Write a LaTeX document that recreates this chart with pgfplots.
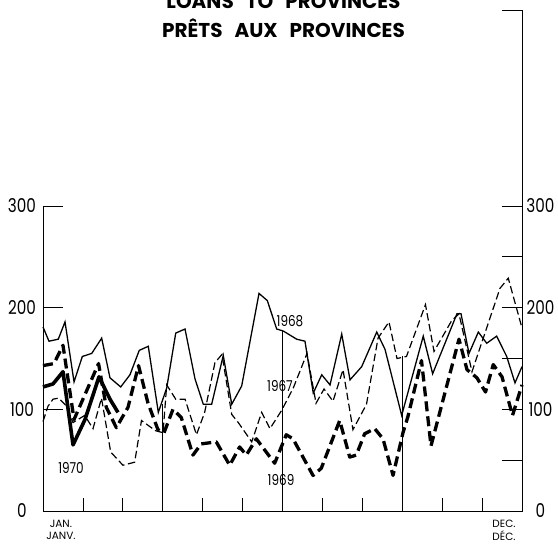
\documentclass[border=0pt]{standalone}
\usepackage{fontspec}
\setmainfont{Poppins}
\newfontfamily\narrowfont[FakeStretch=0.8]{Poppins}
\usepackage{pgfplots}
\pgfplotsset{compat=1.18}

\begin{document}
\begin{tikzpicture}
\begin{axis}[
  scale only axis,
  width=479pt, height=305pt,
  xmin=0, xmax=52, ymin=0, ymax=300,
  clip=false,
  axis line style={draw=none},
  major tick length=0pt,
  xtick=\empty,
  ytick={0,100,200,300},
  /pgf/number format/assume math mode=true,
  yticklabel style={anchor=center, xshift=-21pt, font=\narrowfont\fontsize{19}{19}\selectfont},
]
% 1968
\addplot[black, line width=1.3pt] coordinates {
  (0,181) (0.65,167) (1.66,169) (2.39,186) (3.37,127) (4.27,152) (5.29,155)
  (6.37,170) (7.27,131) (8.44,122) (9.44,134) (10.45,158) (11.43,162)
  (12.52,97) (13.43,121) (14.41,175) (15.42,179) (16.50,130) (17.40,105)
  (18.31,105) (19.57,153) (20.49,105) (21.57,123) (23.45,214) (24.35,207)
  (25.37,179) (26.09,177) (27.54,169) (28.44,167) (29.34,116) (30.26,134)
  (31.16,124) (32.43,174) (33.33,129) (34.60,142) (36.23,176) (37.13,159)
  (38.94,94) (41.28,172) (42.30,135) (44.94,194) (45.38,194) (46.25,155)
  (47.26,176) (48.17,165) (49.25,172) (50.34,152) (51.24,126) (52,142)
};
% 1967
\addplot[black, line width=1.2pt, dash pattern=on 7.5pt off 3.5pt] coordinates {
  (0,88) (0.54,103) (1.09,110) (1.70,111) (2.46,104) (3.26,87) (4.53,94)
  (5.43,81) (6.35,111) (7.35,58) (8.68,45) (9.95,48) (10.69,89) (12.21,79)
  (13.03,77) (13.43,124) (14.41,110) (15.42,110) (16.66,75) (17.55,97)
  (18.67,146) (19.43,154) (20.49,95) (21.20,87) (22.66,68) (23.74,97)
  (24.64,81) (25.91,99) (27.17,121) (28.66,155) (29.64,106) (30.51,120)
  (31.48,108) (32.57,139) (33.65,80) (35.12,105) (36.37,170) (37.56,186)
  (38.43,150) (39.46,152) (41.52,203) (42.45,157) (43.53,174) (44.35,187)
  (45.16,194) (46.57,137) (49.61,219) (50.51,229) (52,180)
};
% 1969
\addplot[black, line width=3.3pt, dash pattern=on 10pt off 5pt, line join=round] coordinates {
  (0,143) (1.19,145) (2.17,163) (3.37,90) (6.03,145) (6.87,102) (7.96,82)
  (9.23,102) (10.37,143) (11.40,106) (12.48,80) (13.14,77) (14.11,100)
  (15.01,92) (16.28,55) (17.18,66) (18.81,68) (20.27,45) (21.35,63)
  (22.07,55) (23.16,71) (25.15,47) (26.41,75) (27.14,71) (29.31,35)
  (30.21,42) (32.21,89) (33.30,53) (34.01,55) (34.92,76) (36.01,81)
  (36.91,71) (38.00,35) (39.08,77) (39.62,93) (41.09,148) (42.12,64)
  (45.16,169) (46.03,139) (47.11,131) (48.04,117) (48.88,144) (49.83,132)
  (50.97,94) (52,124)
};
% 1970
\addplot[black, line width=3.6pt, line join=round] coordinates {
  (0,122) (1.09,125) (2.17,137) (3.26,65) (4.56,90) (6.08,132) (7.27,110) (8.14,97)
};
% frame
\draw[line width=0.8pt] (axis cs:0,300) -- (axis cs:0,0) -- (axis cs:52,0)
  -- (axis cs:52,492.3) -- ++(-20pt,0);
\pgfplotsinvokeforeach{100,200,300}{
  \draw[line width=0.8pt] (axis cs:0,#1) -- ++(20pt,0);
}
\pgfplotsinvokeforeach{50,100,150,200,250,300}{
  \draw[line width=0.8pt] (axis cs:52,#1) -- ++(-20pt,0);
}
\pgfplotsinvokeforeach{0,100,200,300}{
  \node[font=\narrowfont\fontsize{19}{19}\selectfont] at (axis cs:52,#1) [xshift=18.5pt] {#1};
}
\pgfplotsinvokeforeach{4.333,8.667,17.333,21.667,30.333,34.667,43.333,47.667}{
  \draw[line width=0.8pt] (axis cs:#1,0) -- ++(0,13pt);
}
\draw[line width=0.8pt] (axis cs:13,0) -- (axis cs:13,105);
\draw[line width=0.8pt] (axis cs:26,0) -- (axis cs:26,178);
\draw[line width=0.8pt] (axis cs:39,0) -- (axis cs:39,152);
% series names
\node[font=\narrowfont\fontsize{15}{15}\selectfont] at (axis cs:26.81,186.9) {1968};
\node[font=\narrowfont\fontsize{15}{15}\selectfont] at (axis cs:25.73,123) {1967};
\node[font=\narrowfont\fontsize{15}{15}\selectfont] at (axis cs:25.84,30.5) {1969};
\node[font=\narrowfont\fontsize{15}{15}\selectfont] at (axis cs:3.04,42.3) {1970};
% month names
\node[font=\fontsize{10.5}{10.5}\selectfont] at (axis cs:1.95,0) [yshift=-12.5pt] {JAN.};
\node[font=\fontsize{10.5}{10.5}\selectfont] at (axis cs:1.95,0) [yshift=-25pt] {JANV.};
\node[font=\fontsize{10.5}{10.5}\selectfont] at (axis cs:50.05,0) [yshift=-12.5pt] {DEC.};
\node[font=\fontsize{10.5}{10.5}\selectfont] at (axis cs:50.05,0) [yshift=-24.5pt] {DÉC.};
\coordinate (O) at (axis cs:0,0);
\end{axis}
\node[anchor=base, font=\bfseries\fontsize{20}{20}\selectfont] at ([shift={(240.5pt,502pt)}]O)
  {LOANS\hspace{0.6em}TO\hspace{0.6em}PROVINCES};
\node[anchor=base, font=\bfseries\fontsize{20}{20}\selectfont] at ([shift={(240.5pt,473pt)}]O)
  {PRÊTS\hspace{0.6em}AUX\hspace{0.6em}PROVINCES};
\pgfresetboundingbox
\path[use as bounding box] ([shift={(-43pt,-33pt)}]O) rectangle ([shift={(515pt,511pt)}]O);
\end{tikzpicture}
\end{document}
